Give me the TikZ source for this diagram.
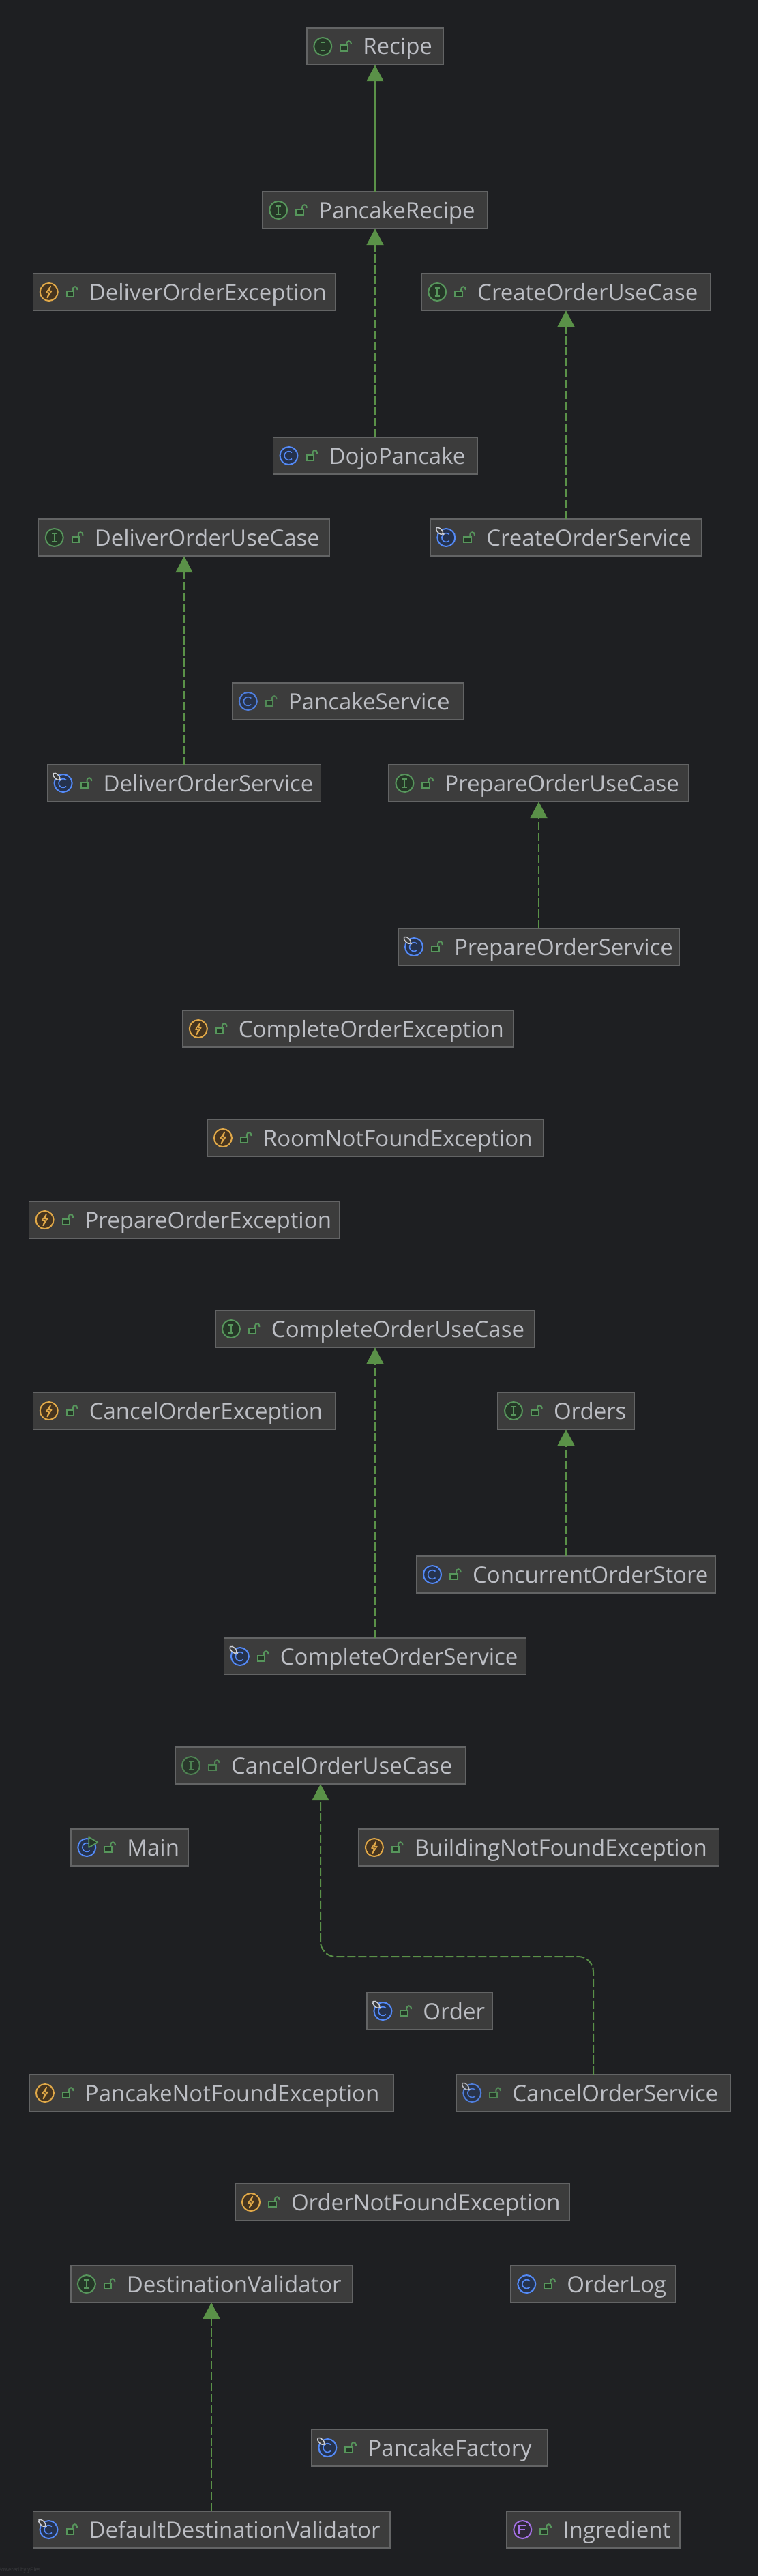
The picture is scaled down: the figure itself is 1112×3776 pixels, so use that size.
\documentclass[tikz,border=0pt]{standalone}
\usepackage{fontspec}
\setmainfont{Open Sans}
\usetikzlibrary{arrows.meta}
\hyphenpenalty=10000
\definecolor{canvas}{HTML}{1E1F22}
\definecolor{boxfill}{HTML}{3C3C3C}
\definecolor{boxline}{HTML}{636465}
\definecolor{nametext}{HTML}{BCBEC4}
\definecolor{linkgreen}{HTML}{5A9148}
\definecolor{igreen}{HTML}{57965C}
\definecolor{igreenbg}{HTML}{253627}
\definecolor{cblue}{HTML}{548AF7}
\definecolor{cbluebg}{HTML}{25324D}
\definecolor{xamber}{HTML}{E0A848}
\definecolor{xamberbg}{HTML}{45341F}
\definecolor{epurple}{HTML}{A571E6}
\definecolor{epurplebg}{HTML}{2F2936}
\definecolor{ovalwhite}{HTML}{CED0D6}
\definecolor{credit}{HTML}{3A3B3E}
\begin{document}
\begin{tikzpicture}[x=1pt,y=-1pt,
	box/.style={draw=boxline,fill=boxfill,line width=1.6pt,text=nametext,text width=#1-1.6pt,
		align=left,inner sep=0pt,outer sep=0pt,text height=39.2pt,text depth=15.2pt,
		font=\fontsize{33}{38}\selectfont,execute at begin node={\hspace*{82.2pt}}},
	implements/.style={draw=linkgreen,line width=2pt,dash pattern=on 12pt off 4pt,
		-{Triangle[length=24pt,width=25pt,fill=linkgreen]}},
	extends/.style={draw=linkgreen,line width=2pt,
		-{Triangle[length=24pt,width=25pt,fill=linkgreen]}},
	icon/.style={line width=2pt},
	pics/lock/.style={code={
		\draw[igreen,line width=2pt,fill=igreenbg] (26,-1.5) rectangle (36.5,7);
		\draw[igreen,line width=2pt] (35,-1.5) -- (35,-4.5) arc[start angle=180,end angle=360,radius=3.25] -- (41.5,-3);
	}},
	pics/iface/.style={code={
		\draw[icon,igreen,fill=igreenbg] (0,0) circle[radius=13];
		\draw[igreen,line width=1.6pt] (-3.5,-6) -- (3.5,-6) (0,-6) -- (0,6) (-3.5,6) -- (3.5,6);
		\pic {lock};
	}},
	pics/klass/.style={code={
		\draw[icon,cblue,fill=cbluebg] (0,0) circle[radius=13];
		\draw[cblue,line width=1.6pt] (4.5,-4.5) arc[start angle=315,end angle=45,x radius=6.4,y radius=6.4];
		\pic {lock};
	}},
	pics/service/.style={code={
		\pic {klass};
		\draw[ovalwhite,line width=1.5pt,fill=boxfill,rotate around={45:(-9.7,-9.7)}] (-9.7,-9.7) ellipse[x radius=3.2,y radius=6.5];
		\fill[ovalwhite] (-4,-5) circle[radius=1.5];
	}},
	pics/runner/.style={code={
		\pic {klass};
		\draw[igreen,line width=1.8pt,fill=igreenbg,line join=round] (3,-15) -- (16,-7.5) -- (3,0) -- cycle;
	}},
	pics/failure/.style={code={
		\draw[icon,xamber,fill=xamberbg] (0,0) circle[radius=13];
		\draw[xamber,line width=1.5pt,line join=round] (2.5,-8.5) -- (-4,1) -- (0,1) -- (-2.5,8.5) -- (4,-1.5) -- (0,-1.5) -- cycle;
		\pic {lock};
	}},
	pics/enumer/.style={code={
		\draw[icon,epurple,fill=epurplebg] (0,0) circle[radius=13];
		\draw[epurple,line width=1.7pt] (5,-6.5) -- (-5,-6.5) -- (-5,6.5) -- (5,6.5) (-5,0) -- (4,0);
		\pic {lock};
	}}]
\path[use as bounding box,fill=canvas] (0,0) rectangle (1112,3776);
% class boxes, top to bottom
\node[box=201.4pt] (Recipe) at (550,68) {Recipe};
\node[box=331.6pt] (PancakeRecipe) at (550,308) {PancakeRecipe};
\node[box=444.5pt] (DeliverOrderException) at (270,428) {DeliverOrderException};
\node[box=425.6pt] (CreateOrderUseCase) at (830,428) {CreateOrderUseCase};
\node[box=301pt] (DojoPancake) at (550,668) {DojoPancake};
\node[box=428.5pt] (DeliverOrderUseCase) at (270,788) {DeliverOrderUseCase};
\node[box=399.4pt] (CreateOrderService) at (830,788) {CreateOrderService};
\node[box=340.3pt] (PancakeService) at (510,1028) {PancakeService};
\node[box=402.8pt] (DeliverOrderService) at (270,1148) {DeliverOrderService};
\node[box=441.1pt] (PrepareOrderUseCase) at (790,1148) {PrepareOrderUseCase};
\node[box=414pt] (PrepareOrderService) at (790,1388) {PrepareOrderService};
\node[box=486.3pt] (CompleteOrderException) at (510,1508) {CompleteOrderException};
\node[box=494.2pt] (RoomNotFoundException) at (550,1668) {RoomNotFoundException};
\node[box=456.8pt] (PrepareOrderException) at (270,1788) {PrepareOrderException};
\node[box=470.1pt] (CompleteOrderUseCase) at (550,1948) {CompleteOrderUseCase};
\node[box=444.5pt] (CancelOrderException) at (270,2068) {CancelOrderException};
\node[box=202pt] (Orders) at (830,2068) {Orders};
\node[box=440pt] (ConcurrentOrderStore) at (830,2308) {ConcurrentOrderStore};
\node[box=444.3pt] (CompleteOrderService) at (550,2428) {CompleteOrderService};
\node[box=428pt] (CancelOrderUseCase) at (470,2588) {CancelOrderUseCase};
\node[box=173.4pt] (Main) at (190,2708) {Main};
\node[box=530.2pt] (BuildingNotFoundException) at (790,2708) {BuildingNotFoundException};
\node[box=185.1pt] (Order) at (630,2948) {Order};
\node[box=536.2pt] (PancakeNotFoundException) at (310,3068) {PancakeNotFoundException};
\node[box=403.4pt] (CancelOrderService) at (870,3068) {CancelOrderService};
\node[box=492pt] (OrderNotFoundException) at (590,3228) {OrderNotFoundException};
\node[box=414.2pt] (DestinationValidator) at (310,3348) {DestinationValidator};
\node[box=243.4pt] (OrderLog) at (870,3348) {OrderLog};
\node[box=347.2pt] (PancakeFactory) at (630,3588) {PancakeFactory};
\node[box=525pt] (DefaultDestinationValidator) at (310,3708) {DefaultDestinationValidator};
\node[box=255.4pt] (Ingredient) at (870,3708) {Ingredient};
\node[text=credit,font=\fontsize{7.5}{9}\selectfont,inner sep=0pt] (poweredby) at (28.5,3768) {Powered by yFiles};
% icons
\pic at ([xshift=23.2pt]Recipe.west) {iface};
\pic at ([xshift=23.2pt]PancakeRecipe.west) {iface};
\pic at ([xshift=23.2pt]DeliverOrderException.west) {failure};
\pic at ([xshift=23.2pt]CreateOrderUseCase.west) {iface};
\pic at ([xshift=23.2pt]DojoPancake.west) {klass};
\pic at ([xshift=23.2pt]DeliverOrderUseCase.west) {iface};
\pic at ([xshift=23.2pt]CreateOrderService.west) {service};
\pic[opacity=.85] at ([xshift=23.2pt]PancakeService.west) {klass};
\pic at ([xshift=23.2pt]DeliverOrderService.west) {service};
\pic at ([xshift=23.2pt]PrepareOrderUseCase.west) {iface};
\pic at ([xshift=23.2pt]PrepareOrderService.west) {service};
\pic at ([xshift=23.2pt]CompleteOrderException.west) {failure};
\pic at ([xshift=23.2pt]RoomNotFoundException.west) {failure};
\pic at ([xshift=23.2pt]PrepareOrderException.west) {failure};
\pic at ([xshift=23.2pt]CompleteOrderUseCase.west) {iface};
\pic at ([xshift=23.2pt]CancelOrderException.west) {failure};
\pic at ([xshift=23.2pt]Orders.west) {iface};
\pic at ([xshift=23.2pt]ConcurrentOrderStore.west) {klass};
\pic at ([xshift=23.2pt]CompleteOrderService.west) {service};
\pic[opacity=.8] at ([xshift=23.2pt]CancelOrderUseCase.west) {iface};
\pic at ([xshift=23.2pt]Main.west) {runner};
\pic at ([xshift=23.2pt]BuildingNotFoundException.west) {failure};
\pic at ([xshift=23.2pt]Order.west) {service};
\pic at ([xshift=23.2pt]PancakeNotFoundException.west) {failure};
\pic[opacity=.85] at ([xshift=23.2pt]CancelOrderService.west) {service};
\pic at ([xshift=23.2pt]OrderNotFoundException.west) {failure};
\pic at ([xshift=23.2pt]DestinationValidator.west) {iface};
\pic at ([xshift=23.2pt]OrderLog.west) {klass};
\pic at ([xshift=23.2pt]PancakeFactory.west) {service};
\pic at ([xshift=23.2pt]DefaultDestinationValidator.west) {service};
\pic at ([xshift=23.2pt]Ingredient.west) {enumer};
% inheritance arrows
\draw[extends] (PancakeRecipe.north) -- (Recipe.south);
\draw[implements] (DojoPancake.north) -- (PancakeRecipe.south);
\draw[implements] (CreateOrderService.north) -- (CreateOrderUseCase.south);
\draw[implements] (DeliverOrderService.north) -- (DeliverOrderUseCase.south);
\draw[implements] (PrepareOrderService.north) -- (PrepareOrderUseCase.south);
\draw[implements] (CompleteOrderService.north) -- (CompleteOrderUseCase.south);
\draw[implements] (ConcurrentOrderStore.north) -- (Orders.south);
\draw[implements] (DefaultDestinationValidator.north) -- (DestinationValidator.south);
\coordinate (cancelbend) at (670,2868);
\draw[implements,rounded corners=22pt] (CancelOrderService.north) |- (cancelbend) -| (CancelOrderUseCase.south);
\end{tikzpicture}
\end{document}
